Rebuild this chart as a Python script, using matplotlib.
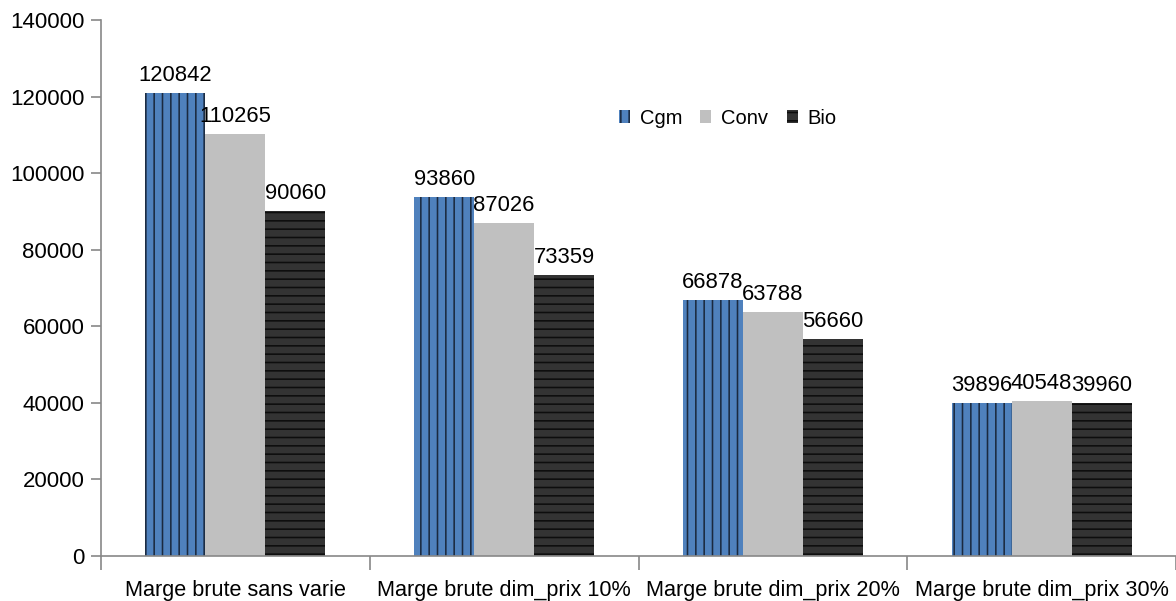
import matplotlib.pyplot as plt
import numpy as np

plt.rcParams['font.family'] = ['Liberation Sans', 'DejaVu Sans']
plt.rcParams['hatch.linewidth'] = 1.15

categories = ['Marge brute sans varie', 'Marge brute dim_prix 10%',
              'Marge brute dim_prix 20%', 'Marge brute dim_prix 30%']
cgm = [120842, 93860, 66878, 39896]
conv = [110265, 87026, 63788, 40548]
bio = [90060, 73359, 56660, 39960]

series = [('Cgm', cgm, '#4F81BD', '#1B2A40', '||'),
          ('Conv', conv, '#C0C0C0', '#C0C0C0', None),
          ('Bio', bio, '#333333', '#0D0D0D', '--')]

fig = plt.figure(figsize=(11.76, 6.01), dpi=100)
ax = fig.add_axes([101/1176, 1-556/601, 1-101/1176, 536/601])

x = np.arange(len(categories))
w = 0.223
for i, (name, vals, fc, hc, hatch) in enumerate(series):
    pos = x + (i - 1) * w
    ax.bar(pos, vals, width=w, color=fc, edgecolor=hc, linewidth=0,
           hatch=hatch, label=name)
    for p, v in zip(pos, vals):
        ax.annotate(str(v), (p, v), xytext=(0, 5), textcoords='offset points',
                    ha='center', va='bottom', fontsize=15.8)

ax.set_xlim(-0.5, len(categories) - 0.5)
ax.set_ylim(0, 140000)
ax.set_yticks(np.arange(0, 140001, 20000))
ax.set_xticks(x)
ax.set_xticklabels(categories, fontsize=15.6)
ax.set_xticks(np.arange(-0.5, len(categories)), minor=True)
ax.tick_params(axis='x', which='major', length=0, pad=17)
ax.tick_params(axis='x', which='minor', length=10, color='#888888', width=1.2)
ax.tick_params(axis='y', length=7, color='#888888', width=1.2, labelsize=16, pad=5)

for s in ['top', 'right']:
    ax.spines[s].set_visible(False)
for s in ['left', 'bottom']:
    ax.spines[s].set_color('#888888')
    ax.spines[s].set_linewidth(1.2)

ax.legend(loc='center', bbox_to_anchor=(0.583, 0.817), ncol=3, frameon=False,
          fontsize=14.5, handlelength=0.55, handleheight=0.6, columnspacing=0.9,
          handletextpad=0.5)

fig.savefig('out.png', dpi=100)
